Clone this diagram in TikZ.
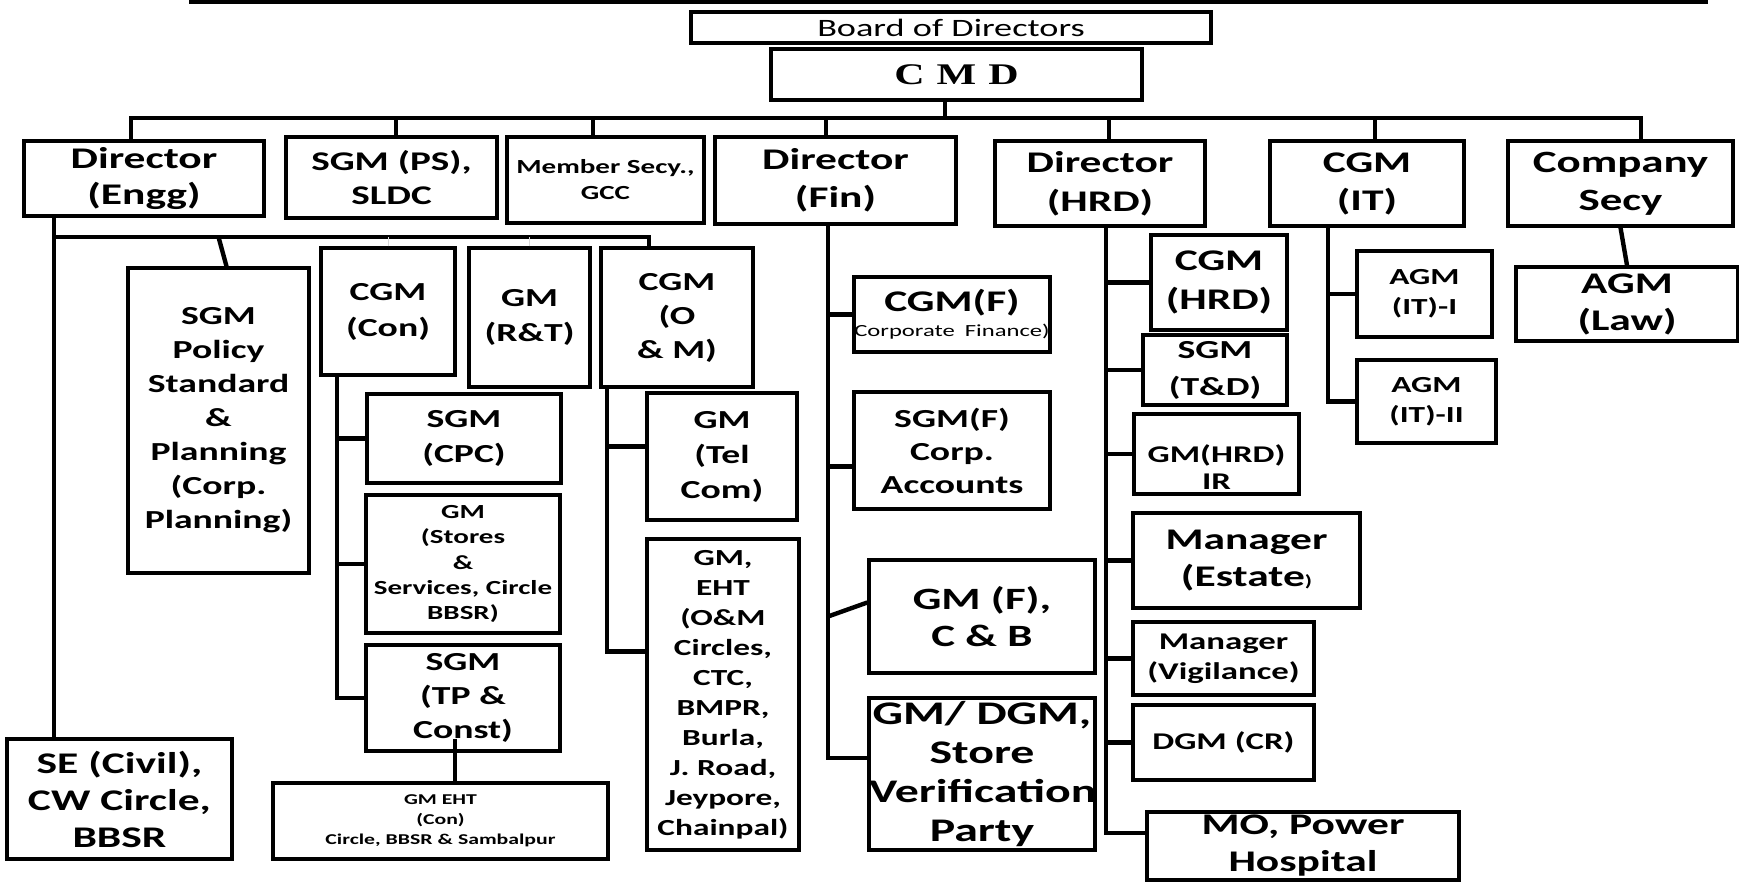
\documentclass[tikz,border=0pt]{standalone}
\usepackage{fontspec}
\setmainfont{Carlito}[FakeStretch=1.45]
\newfontfamily\cmdfont{Liberation Serif}[FakeStretch=1.4]
\newcommand{\fsz}[2]{\fontsize{#1}{#2}\selectfont\bfseries}
\tikzset{
  bx/.style 2 args={draw,line width=1.7pt,inner sep=0pt,align=center,
    minimum width=#1*0.5pt,text width=#1*0.5pt,minimum height=#2*0.5pt},
  ln/.style={line width=2.2pt}
}
\begin{document}
\begin{tikzpicture}[x=0.5pt,y=-0.5pt]
\useasboundingbox (0,0) rectangle (1739,882);
\draw[line width=2pt] (189,2) -- (1708,2);
\node[bx={520}{31},font=\fontsize{12.5}{15}\selectfont] (bod) at (951,27.5) {Board of Directors};
\node[bx={371}{51},font=\cmdfont\fsz{15}{18}] (cmd) at (956.5,74.5) {C\hspace{6pt}M\hspace{6pt}D};
\node[bx={240}{75},font=\fsz{15}{18}] (eng) at (144,178.5) {Director\\(Engg)};
\node[bx={211}{81},font=\fsz{13.5}{17}] (ps) at (391.5,177.5) {SGM (PS),\\SLDC};
\node[bx={197}{86},font=\fsz{10}{13}] (mem) at (605.5,180) {Member Secy.,\\GCC};
\node[bx={241}{87},font=\fsz{15}{19}] (fin) at (835.5,180.5) {Director\\(Fin)};
\node[bx={210}{85},font=\fsz{15}{19.5}] (hrd) at (1100,183.5) {Director\\(HRD)};
\node[bx={194}{85},font=\fsz{15}{19}] (it) at (1367,183.5) {CGM\\(IT)};
\node[bx={225}{85},font=\fsz{15.5}{19}] (cs) at (1620.5,183.5) {Company\\Secy};
\node[bx={225}{120},font=\fsz{15}{18.5}] (se) at (119.5,799) {SE (Civil),\\CW Circle,\\BBSR};
\node[bx={181}{305},font=\fsz{13}{17}] (pol) at (218.5,420.5) {SGM\\Policy\\Standard\\\&\\Planning\\(Corp.\\Planning)};
\node[bx={134}{127},font=\fsz{13}{18}] (con) at (388,311.5) {CGM\\(Con)};
\node[bx={121}{139},font=\fsz{13}{17.5}] (rt) at (529.5,317.5) {GM\\(R\&T)};
\node[bx={152}{139},font=\fsz{13}{17}] (om) at (677,317.5) {CGM\\(O\\\& M)};
\node[bx={194}{89},font=\fsz{13}{17.5}] (cpc) at (464,438.5) {SGM\\(CPC)};
\node[bx={194}{138},font=\fsz{10}{12.7}] (sto) at (463,564) {GM\\(Stores\\\&\\Services, Circle\\BBSR)};
\node[bx={194}{106},font=\fsz{13}{17}] (tp) at (463,698) {SGM\\(TP \&\\Const)};
\node[bx={335}{76},font=\fsz{7.5}{10}] (ehc) at (440.5,821) {GM EHT\\(Con)\\Circle, BBSR \& Sambalpur};
\node[bx={150}{127},font=\fsz{13}{17.5}] (tel) at (722,456.5) {GM\\(Tel\\Com)};
\node[bx={152}{311},font=\fsz{11.5}{15}] (eho) at (723,694.5) {GM,\\EHT\\(O\&M\\Circles,\\CTC,\\BMPR,\\Burla,\\J. Road,\\Jeypore,\\Chainpal)};
\node[bx={196}{75},font=\fsz{15}{12.5}] (cf) at (952,314.5) {CGM(F)\\{\fontsize{8.5}{10}\selectfont\mdseries Corporate Finance)}};
\node[bx={196}{117},font=\fsz{13}{16.5}] (sf) at (952,450.5) {SGM(F)\\Corp.\\Accounts};
\node[bx={226}{113},font=\fsz{15.5}{18.5}] (cb) at (982,616.5) {GM (F),\\C \& B};
\node[bx={226}{152},font=\fsz{16.5}{19.5}] (sv) at (982,774) {GM/ DGM,\\Store\\Verification\\Party};
\node[bx={136}{95},font=\fsz{15}{19.5}] (chr) at (1219,282.5) {CGM\\(HRD)};
\node[bx={144}{70},font=\fsz{13}{18.5}] (td) at (1215,370) {SGM\\(T\&D)};
\node[bx={165}{80},font=\fsz{12}{13.5}] (ir) at (1216.5,454) {\rule{0pt}{22pt}GM(HRD)\\IR};
\node[bx={227}{95},font=\fsz{15}{18.5}] (est) at (1246.5,560.5) {Manager\\(Estate{\fontsize{8}{8}\selectfont)}};
\node[bx={181}{73},font=\fsz{12}{15}] (vig) at (1223.5,658.5) {Manager\\(Vigilance)};
\node[bx={181}{75},font=\fsz{12}{15}] (cr) at (1223.5,742.5) {DGM (CR)};
\node[bx={312}{68},font=\fsz{15}{18.5}] (mo) at (1303,846) {MO, Power\\Hospital};
\node[bx={135}{86},font=\fsz{11.5}{15}] (ai1) at (1424.5,294) {AGM\\(IT)-I};
\node[bx={139}{83},font=\fsz{11.5}{15}] (ai2) at (1426.5,401.5) {AGM\\(IT)-II};
\node[bx={222}{74},font=\fsz{15}{18.5}] (law) at (1627,304) {AGM\\(Law)};
\coordinate (bus) at (945,118);
\draw[ln] (bus) -- (bus |- cmd.south);
\draw[ln] ([xshift=-6.5pt]eng.north) |- (bus) -| ([xshift=10.25pt]cs.north);
\foreach \n/\d in {ps/2.25pt,mem/-6.25pt,fin/-4.75pt,hrd/4.5pt,it/4pt}
  \draw[ln] ([xshift=\d]\n.north) -- ([xshift=\d]\n.north |- bus);
\coordinate (ebus) at (54,237);
\draw[ln] (ebus |- eng.south) -- (ebus |- se.north);
\draw[ln] (ebus) -| ([xshift=-14pt]om.north);
\draw[ln] (pol.north |- ebus) -- ([xshift=4pt]pol.north);
\foreach \n in {con,rt} \draw[thin,gray!30] (\n.north) -- (\n.north |- ebus);
\coordinate (cv) at ([xshift=-25.5pt]con.south);
\draw[ln] (cv) |- (tp.west);
\foreach \n in {cpc,sto} \draw[ln] (\n.west) -- (\n.west -| cv);
\draw[ln] ([xshift=-4pt,yshift=7pt]tp.south) -- ([xshift=-4pt]tp.south |- ehc.north);
\coordinate (ov) at ([xshift=-35pt]om.south);
\draw[ln] (ov) |- ([yshift=21.5pt]eho.west);
\draw[ln] ([yshift=5pt]tel.west) -- ([yshift=5pt]tel.west -| ov);
\coordinate (fv) at ([xshift=-3.75pt]fin.south);
\draw[ln] (fv) |- ([yshift=8pt]sv.west);
\draw[ln] (cf.west) -- (cf.west -| fv);
\draw[ln] ([yshift=-8pt]sf.west) -- ([yshift=-8pt]sf.west -| fv);
\draw[ln] ([yshift=7pt]cb.west) -- (cb.west -| fv);
\coordinate (hv) at ([xshift=3pt]hrd.south);
\draw[ln] (hv) |- ([yshift=6.5pt]mo.west);
\foreach \n in {chr,td,ir,est,vig,cr} \draw[ln] (\n.west) -- (\n.west -| hv);
\coordinate (iv) at ([xshift=-19.5pt]it.south);
\draw[ln] (iv) |- (ai2.west);
\draw[ln] (ai1.west) -- (ai1.west -| iv);
\draw[ln] (cs.south) -- (law.north);
\end{tikzpicture}
\end{document}
